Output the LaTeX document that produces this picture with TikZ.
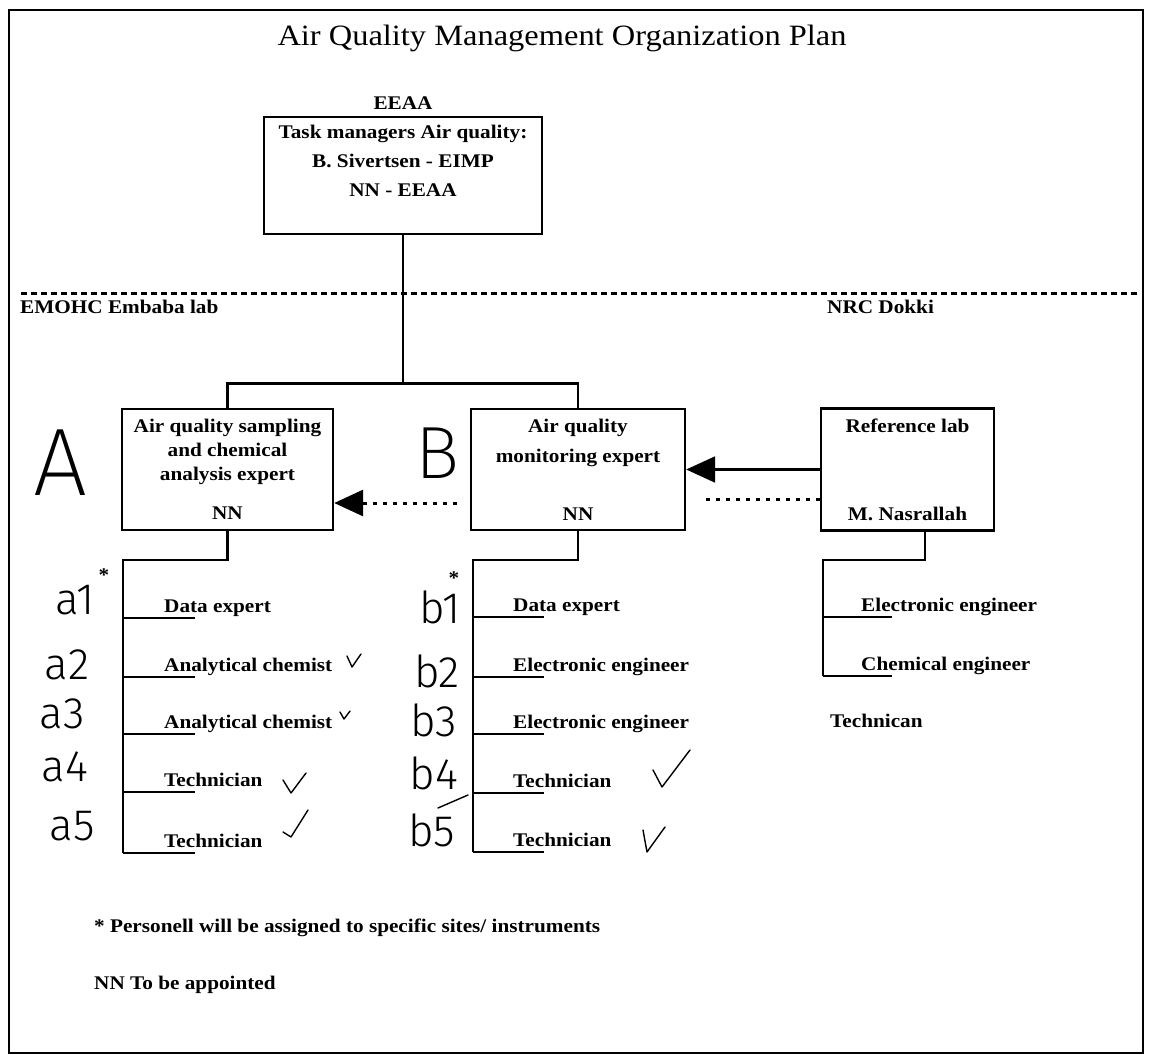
\documentclass[tikz,border=0pt]{standalone}
\usepackage{fontspec}
\setmainfont{Liberation Serif}[FakeStretch=1.1]
\newfontfamily\handfont{Fira Sans Light}
\newfontfamily\handthin{Fira Sans ExtraLight}
\usetikzlibrary{arrows.meta,positioning,calc}
\tikzset{
  frm/.style  ={draw=black,line width=1.8pt},
  blk/.style  ={draw=black,line width=2.4pt,align=center,inner sep=0pt,
                font=\bfseries\fontsize{19.3}{24}\selectfont},
  lbl/.style  ={font=\bfseries\fontsize{19.3}{24}\selectfont,inner sep=0pt},
  item/.style ={lbl,anchor=base west},
  ttl/.style  ={font=\fontsize{29.5}{30}\selectfont,inner sep=0pt,anchor=base},
  ln/.style   ={draw=black,line width=2.3pt},
  sep/.style  ={draw=black,line width=3pt,dash pattern=on 6pt off 4pt},
  dots/.style ={draw=black,line width=3pt,dash pattern=on 4pt off 6pt},
  tri/.style  ={-{Triangle[length=29pt,width=26pt]}},
  hand/.style ={font=\handfont\fontsize{44}{44}\selectfont,inner sep=0pt},
  pen/.style  ={draw=black,line width=1.4pt,line cap=round,line join=round},
}

\begin{document}
\begin{tikzpicture}[x=1pt,y=-1pt]
\useasboundingbox (0,0) rectangle (1152,1055);
\draw[frm] (9,10) rectangle (1143,1053);

\node[ttl] (title) at (562,45) {Air Quality Management Organization Plan};
\node[lbl,anchor=base] (eeaa) at (403,109) {EEAA};
\node[blk,minimum width=278pt,minimum height=117pt,anchor=north] (tm) at (403,116)
  {Task managers Air quality:\\[5pt]B. Sivertsen - EIMP\\[5pt]NN - EEAA\\[5pt]\mbox{}};

\draw[sep] (21,293) -- (1137,293);
\node[item] (emohc) at (20,313) {EMOHC Embaba lab};
\node[item] (nrc) at (827,313) {NRC Dokki};

\node[blk,minimum width=211pt,minimum height=121pt] (A) at (227.5,469.5)
  {Air quality sampling\\and chemical\\analysis expert\\[15pt]NN};
\node[blk,minimum width=214pt,minimum height=121pt] (B) at (578,469.5)
  {Air quality\\[6pt]monitoring expert\\[34pt]NN};
\node[blk,minimum width=173pt,minimum height=122pt] (ref) at (907.5,469.5)
  {Reference lab\\[64pt]M. Nasrallah};

\coordinate (split) at ($(tm.south)+(0,148)$);
\draw[ln] (tm.south) -- (split);
\draw[ln] (A.north) |- (split) -| (B.north);

\draw[ln,tri] (ref.west) -- (B.east);
\draw[dots,tri,shorten <=13pt] ($(B.west)+(0,33.5)$) -- ($(A.east)+(0,33.5)$);
\draw[dots] ($(ref.west)+(0,29.5)$) -- ($(B.east)+(14,29.5)$);

\foreach \i/\y/\txt in {1/618/Data expert,2/677/Analytical chemist,
                        3/734/Analytical chemist,4/792/Technician,5/853/Technician}
  {\coordinate (ta\i) at (123,\y);
   \draw[ln] (ta\i) -- ++(72,0);
   \node[item] (a\i) at ($(ta\i)+(41,-6)$) {\txt};}
\draw[ln] (A.south) -- ++(0,29) -| (ta5);

\foreach \i/\y/\txt in {1/617/Data expert,2/677/Electronic engineer,
                        3/734/Electronic engineer,4/793/Technician,5/852/Technician}
  {\coordinate (tb\i) at (473,\y);
   \draw[ln] (tb\i) -- ++(71,0);
   \node[item] (b\i) at ($(tb\i)+(40,-6)$) {\txt};}
\draw[ln] (B.south) -- ++(0,29) -| (tb5);

\foreach \i/\y/\txt in {1/617/Electronic engineer,2/676/Chemical engineer}
  {\coordinate (tr\i) at (823,\y);
   \draw[ln] (tr\i) -- ++(69,0);
   \node[item] (r\i) at ($(tr\i)+(38,-6)$) {\txt};}
\draw[ln] ($(ref.south)+(17.5,0)$) -- ++(0,28) -| (tr2);
\node[item] (r3) at (830,727) {Technican};

\node[lbl] (stA) at (104,575) {*};
\node[lbl] (stB) at (454,578) {*};

\node[item] (note1) at (94,932) {* Personell will be assigned to specific sites/ instruments};
\node[item] (note2) at (94,989) {NN To be appointed};

% handwritten marks
\node[hand,font=\handthin\fontsize{96}{96}\selectfont] (hA) at (60,463) {A};
\node[hand,font=\handthin\fontsize{74}{74}\selectfont] (hB) at (437,453) {B};
\foreach \n/\x/\y in {a1/75/600,a2/67/665,a3/62/714,a4/65/767,a5/72/826,
                      b1/440/607,b2/437/671,b3/434/720,b4/434/773,b5/432/830}
  {\node[hand] (h\n) at (\x,\y) {\n};}
\draw[pen] (347,656) -- (352,667) -- (361,654);
\draw[pen] (340,712) -- (344,719) -- (350,711);
\draw[pen] (283,780) -- (291,793) -- (306,773);
\draw[pen] (283,832) -- (291,837) -- (308,810);
\draw[pen] (653,770) -- (662,787) -- (690,750);
\draw[pen] (643,830) -- (647,852) -- (665,827);
\draw[pen] (438,808) -- (468,795);
\end{tikzpicture}
\end{document}
